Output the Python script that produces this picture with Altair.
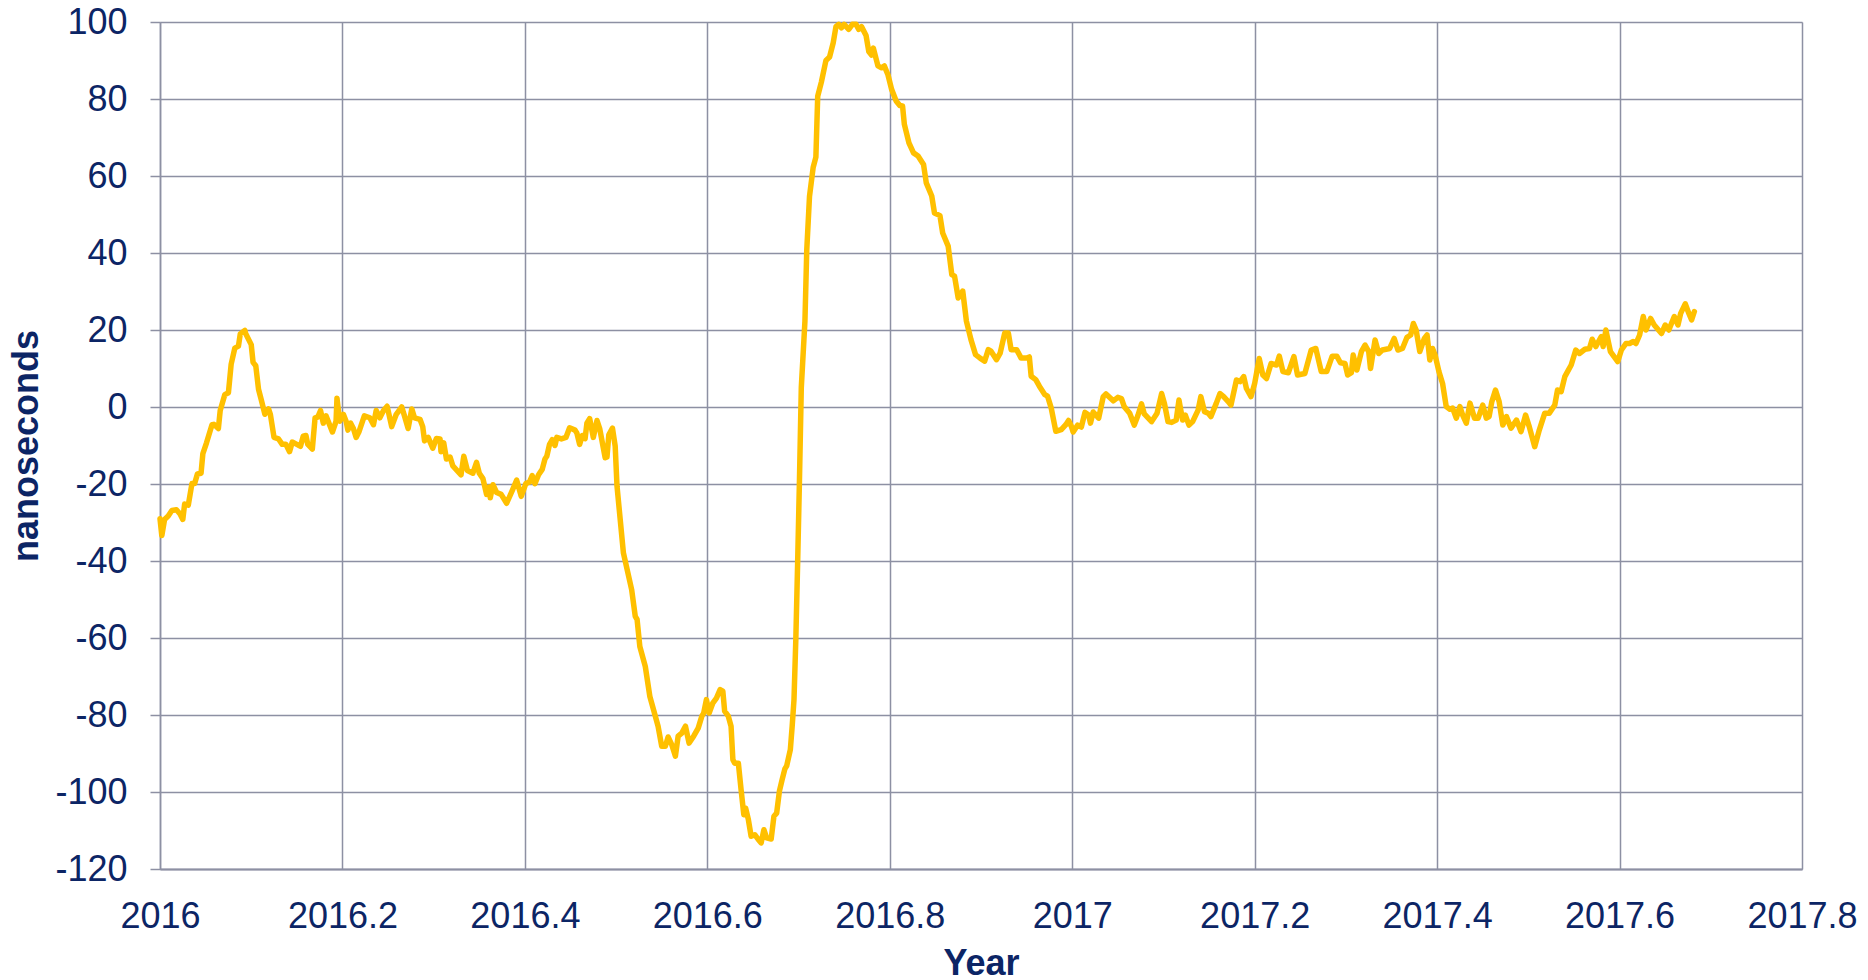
import altair as alt
import pandas as pd

year = [
    2016.000, 2016.002, 2016.005, 2016.009, 2016.013, 2016.018, 2016.022, 2016.025, 2016.027, 2016.031,
    2016.035, 2016.038, 2016.041, 2016.045, 2016.047, 2016.051, 2016.057, 2016.059, 2016.064, 2016.066,
    2016.071, 2016.075, 2016.078, 2016.082, 2016.086, 2016.088, 2016.093, 2016.094, 2016.100, 2016.102,
    2016.105, 2016.108, 2016.111, 2016.115, 2016.119, 2016.121, 2016.125, 2016.130, 2016.134, 2016.138,
    2016.142, 2016.145, 2016.150, 2016.154, 2016.157, 2016.160, 2016.162, 2016.167, 2016.170, 2016.173,
    2016.176, 2016.179, 2016.182, 2016.189, 2016.193, 2016.194, 2016.197, 2016.201, 2016.204, 2016.206,
    2016.209, 2016.212, 2016.215, 2016.218, 2016.224, 2016.230, 2016.234, 2016.237, 2016.241, 2016.245,
    2016.249, 2016.254, 2016.259, 2016.265, 2016.268, 2016.272, 2016.276, 2016.279, 2016.285, 2016.288,
    2016.290, 2016.294, 2016.299, 2016.303, 2016.307, 2016.308, 2016.311, 2016.314, 2016.318, 2016.321,
    2016.330, 2016.333, 2016.337, 2016.343, 2016.347, 2016.350, 2016.354, 2016.358, 2016.361, 2016.362,
    2016.365, 2016.369, 2016.374, 2016.380, 2016.386, 2016.391, 2016.396, 2016.401,
    2016.405, 2016.408, 2016.411, 2016.415, 2016.419, 2016.422, 2016.424, 2016.427, 2016.430, 2016.433,
    2016.435, 2016.440, 2016.445, 2016.449, 2016.455, 2016.457, 2016.460, 2016.463, 2016.466, 2016.468,
    2016.471, 2016.475, 2016.479, 2016.482,
    2016.488, 2016.490, 2016.492, 2016.496, 2016.499, 2016.501, 2016.508, 2016.517, 2016.521, 2016.523,
    2016.526, 2016.532, 2016.537, 2016.543, 2016.546, 2016.550, 2016.554, 2016.557, 2016.561, 2016.565,
    2016.568, 2016.572, 2016.576, 2016.580, 2016.585, 2016.590, 2016.594, 2016.596, 2016.599, 2016.602,
    2016.606, 2016.610, 2016.614, 2016.617, 2016.619, 2016.623, 2016.626, 2016.628, 2016.630, 2016.634,
    2016.637, 2016.640, 2016.642, 2016.645, 2016.648, 2016.652, 2016.656, 2016.659, 2016.662, 2016.665,
    2016.670, 2016.673, 2016.676, 2016.679, 2016.682, 2016.685, 2016.687, 2016.691, 2016.693, 2016.695,
    2016.697, 2016.699, 2016.701, 2016.703,
    2016.707, 2016.709, 2016.712, 2016.716, 2016.719, 2016.721, 2016.725, 2016.730, 2016.734, 2016.738,
    2016.741, 2016.744, 2016.747, 2016.750, 2016.755, 2016.759, 2016.763, 2016.766, 2016.769, 2016.774,
    2016.777, 2016.780, 2016.782, 2016.787, 2016.791, 2016.794, 2016.798,
    2016.802, 2016.807, 2016.811, 2016.814, 2016.816, 2016.821, 2016.826, 2016.831, 2016.837, 2016.840,
    2016.846, 2016.849, 2016.855, 2016.858, 2016.864, 2016.868, 2016.871, 2016.875, 2016.880, 2016.884,
    2016.889, 2016.894, 2016.899, 2016.904, 2016.908, 2016.911, 2016.917, 2016.921, 2016.926, 2016.930,
    2016.933, 2016.939, 2016.944, 2016.950, 2016.953, 2016.955, 2016.960, 2016.964, 2016.970, 2016.973,
    2016.977, 2016.982, 2016.988, 2016.993, 2016.996, 2016.999, 2017.001,
    2017.006, 2017.010, 2017.014, 2017.018, 2017.020, 2017.023, 2017.029, 2017.034, 2017.037, 2017.045,
    2017.050, 2017.054, 2017.057, 2017.063, 2017.068, 2017.072, 2017.076, 2017.079, 2017.087, 2017.093,
    2017.098, 2017.101, 2017.105, 2017.109, 2017.114, 2017.117, 2017.121, 2017.124, 2017.128, 2017.132,
    2017.138, 2017.141, 2017.145, 2017.149, 2017.152, 2017.158, 2017.162, 2017.166, 2017.171, 2017.174,
    2017.180, 2017.184, 2017.188, 2017.191, 2017.196, 2017.200, 2017.205, 2017.209, 2017.213, 2017.218,
    2017.224, 2017.227, 2017.231, 2017.237, 2017.243, 2017.247, 2017.255, 2017.262, 2017.267, 2017.273,
    2017.279, 2017.285, 2017.290, 2017.294, 2017.299, 2017.302, 2017.306, 2017.308, 2017.312, 2017.317,
    2017.321, 2017.325, 2017.327, 2017.332, 2017.336, 2017.340, 2017.348, 2017.353, 2017.357, 2017.362,
    2017.367, 2017.371, 2017.374, 2017.377, 2017.381, 2017.386, 2017.389, 2017.392, 2017.395, 2017.398,
    2017.402, 2017.406, 2017.410,
    2017.414, 2017.417, 2017.421, 2017.425, 2017.428, 2017.432, 2017.436, 2017.441, 2017.445, 2017.450,
    2017.454, 2017.457, 2017.460, 2017.464, 2017.468, 2017.472, 2017.476, 2017.481, 2017.487, 2017.492,
    2017.497, 2017.501, 2017.507, 2017.512, 2017.518, 2017.523, 2017.529, 2017.532, 2017.536, 2017.540,
    2017.543, 2017.547, 2017.552, 2017.556, 2017.562, 2017.567, 2017.570, 2017.574, 2017.580, 2017.582,
    2017.585, 2017.590, 2017.594, 2017.598, 2017.602, 2017.607, 2017.611, 2017.615, 2017.618, 2017.622,
    2017.626, 2017.629, 2017.634, 2017.638, 2017.646, 2017.650, 2017.654, 2017.660, 2017.664, 2017.667,
    2017.672, 2017.676, 2017.679, 2017.682,
]

nanoseconds = [
    -29.0, -33.4, -29.2, -28.3, -26.9, -26.7, -27.8, -29.2, -25.2, -25.5,
    -19.9, -19.9, -17.4, -17.2, -12.1, -9.3, -4.6, -4.5, -5.6, -0.9,
    3.2, 3.7, 11.1, 15.3, 15.8, 19.0, 19.9, 19.0, 16.2, 11.6,
    10.7, 4.6, 1.9, -1.9, -0.5, -1.9, -7.9, -8.3, -9.7, -9.7,
    -11.6, -9.1, -9.7, -10.2, -7.6, -7.4, -9.7, -10.9, -2.8, -2.6,
    -0.9, -4.2, -2.3, -6.5, -3.7, 2.3, -3.7, -1.9, -3.7, -6.0,
    -4.2, -5.6, -7.9, -6.5, -2.3, -2.8, -4.6, -0.9, -2.8, -0.9,
    0.2, -5.1, -1.9, 0.0, -2.3, -5.6, -0.5, -2.8, -3.2, -5.1,
    -8.8, -7.9, -10.7, -8.2, -8.3, -11.6, -9.3, -13.5, -13.0, -15.3,
    -17.6, -12.8, -16.5, -17.2, -14.4, -17.2, -18.6, -22.7, -20.8, -23.6,
    -20.2, -22.2, -22.7, -25.0, -21.8, -19.0, -23.2, -19.9,
    -19.5, -17.8, -19.9, -17.6, -16.2, -13.5, -12.8, -9.7, -8.5, -10.0,
    -7.9, -8.3, -7.9, -5.4, -6.0, -6.8, -9.7, -7.4, -8.2, -4.2,
    -3.0, -7.9, -3.5, -5.6,
    -13.2, -13.0, -7.2, -5.5, -10.2, -20.6, -37.9, -47.4, -54.4, -55.2,
    -62.2, -67.4, -75.2, -80.3, -82.9, -88.1, -88.1, -85.7, -87.7, -90.7,
    -85.5, -84.7, -82.9, -87.3, -85.5, -83.4, -80.3, -79.5, -76.0, -79.5,
    -76.9, -75.6, -73.4, -73.8, -79.0, -80.3, -82.9, -91.6, -92.5, -92.5,
    -99.4, -105.9, -104.2, -107.2, -111.5, -111.1, -112.4, -113.2, -109.8, -111.9,
    -112.2, -106.3, -105.5, -99.8, -96.8, -94.0, -93.2, -89.0, -82.9, -76.0,
    -60.4, -40.5, -18.9, 5.0,
    22.3, 40.8, 54.7, 62.2, 64.9, 80.7, 84.4, 90.0, 90.9, 94.6,
    98.8, 99.4, 98.5, 99.4, 98.1, 99.4, 99.4, 98.1, 98.8, 96.5,
    92.3, 91.4, 93.2, 88.6, 88.1, 88.6, 86.3,
    82.5, 79.5, 78.3, 78.2, 73.4, 68.6, 66.0, 65.2, 63.0, 58.2,
    54.8, 50.4, 49.7, 45.2, 41.8, 34.4, 34.0, 28.3, 30.1, 22.3,
    17.5, 13.6, 12.7, 11.9, 14.9, 14.5, 12.3, 14.0, 19.2, 19.2,
    14.9, 14.9, 12.7, 12.7, 13.0, 8.0, 7.1, 5.4, 3.2, 2.8,
    -0.3, -6.3, -5.9, -4.6, -3.5, -5.0, -6.5,
    -4.7, -5.2, -1.4, -2.1, -4.2, -1.3, -2.9, 2.7, 3.4, 1.6,
    2.5, 2.2, 0.1, -1.6, -4.7, -2.2, 0.8, -1.8, -3.8, -1.6,
    3.5, 1.0, -3.8, -4.0, -3.4, 1.8, -3.4, -2.1, -4.7, -3.8,
    -0.8, 2.7, -1.2, -1.6, -2.5, 1.0, 3.5, 2.7, 1.4, 0.5,
    7.0, 6.6, 7.9, 4.8, 2.7, 6.1, 12.6, 8.3, 7.4, 11.3,
    10.9, 13.2, 9.2, 8.9, 13.1, 8.3, 8.7, 14.8, 15.2, 9.2,
    9.2, 13.2, 13.2, 11.5, 11.3, 8.3, 8.9, 13.5, 9.6, 14.4,
    16.1, 14.4, 10.0, 17.4, 13.9, 14.8, 15.2, 17.8, 14.8, 15.2,
    18.1, 18.7, 21.7, 20.0, 14.4, 17.8, 18.7, 12.2, 15.2, 13.3,
    9.2, 6.1, 0.1,
    -0.6, -0.3, -2.9, 0.1, -2.1, -4.2, 1.0, -2.9, -2.9, 0.5,
    -2.9, -2.5, 1.4, 4.4, 1.4, -4.7, -2.5, -5.5, -3.4, -6.4,
    -2.1, -5.1, -10.3, -6.0, -1.6, -1.6, 0.5, 4.4, 4.0, 7.9,
    9.2, 10.9, 14.8, 13.9, 15.0, 15.2, 17.6, 15.7, 18.3, 15.7,
    20.0, 14.4, 13.1, 11.8, 14.8, 16.5, 16.5, 17.0, 16.5, 18.7,
    23.5, 20.0, 23.0, 21.3, 19.1, 21.3, 20.0, 23.5, 21.3, 24.3,
    26.8, 24.3, 22.6, 24.8,
]

x_ticks = [2016.0, 2016.2, 2016.4, 2016.6, 2016.8, 2017.0, 2017.2, 2017.4, 2017.6, 2017.8]
y_ticks = [-120, -100, -80, -60, -40, -20, 0, 20, 40, 60, 80, 100]

df = pd.DataFrame({"Year": year, "ns": nanoseconds})

NAVY = "#0c2565"
GRID = "#8d90a3"
FONT = "Liberation Sans"

chart = (
    alt.Chart(df)
    .mark_line(color="#FFC000", strokeWidth=5.5, strokeJoin="round", strokeCap="round")
    .encode(
        x=alt.X(
            "Year:Q",
            scale=alt.Scale(domain=[2016, 2017.8], nice=False, zero=False),
            axis=alt.Axis(
                values=x_ticks,
                format=".1~f",
                title="Year",
                grid=True,
                gridColor=GRID,
                gridWidth=1.5,
                domainColor=GRID,
                domainWidth=2,
                ticks=False,
                tickSize=0,
                labelFont=FONT,
                labelFontSize=36,
                labelColor=NAVY,
                labelBaseline="alphabetic",
                labelPadding=58,
                labelFlush=False,
                labelOverlap=False,
                titleFont=FONT,
                titleFontSize=36,
                titleFontWeight="bold",
                titleColor=NAVY,
                titleBaseline="alphabetic",
                titleAlign="center",
                titleX=821,
                titleY=105,
            ),
        ),
        y=alt.Y(
            "ns:Q",
            scale=alt.Scale(domain=[-120, 100], nice=False, zero=False),
            axis=alt.Axis(
                values=y_ticks,
                labelExpr="toString(datum.value)",
                title="nanoseconds",
                grid=True,
                gridColor=GRID,
                gridWidth=1.5,
                domainColor=GRID,
                domainWidth=1.5,
                ticks=True,
                tickSize=10,
                tickColor=GRID,
                tickWidth=1.5,
                labelFont=FONT,
                labelFontSize=36,
                labelColor=NAVY,
                labelPadding=23,
                labelFlush=False,
                labelOverlap=False,
                titleFont=FONT,
                titleFontSize=36,
                titleFontWeight="bold",
                titleColor=NAVY,
                titleAngle=270,
                titleBaseline="alphabetic",
                titleAlign="center",
                titleX=-123,
                titleY=423.5,
            ),
        ),
    )
    .properties(
        width=1642,
        height=847,
        autosize=alt.AutoSizeParams(type="none"),
        padding={"left": 152, "top": 14, "right": 58, "bottom": 108},
    )
    .configure_view(stroke=GRID, strokeWidth=1.5)
    .configure(background="white")
)

chart.save("out.html", embed_options={"renderer": "svg", "actions": False})
